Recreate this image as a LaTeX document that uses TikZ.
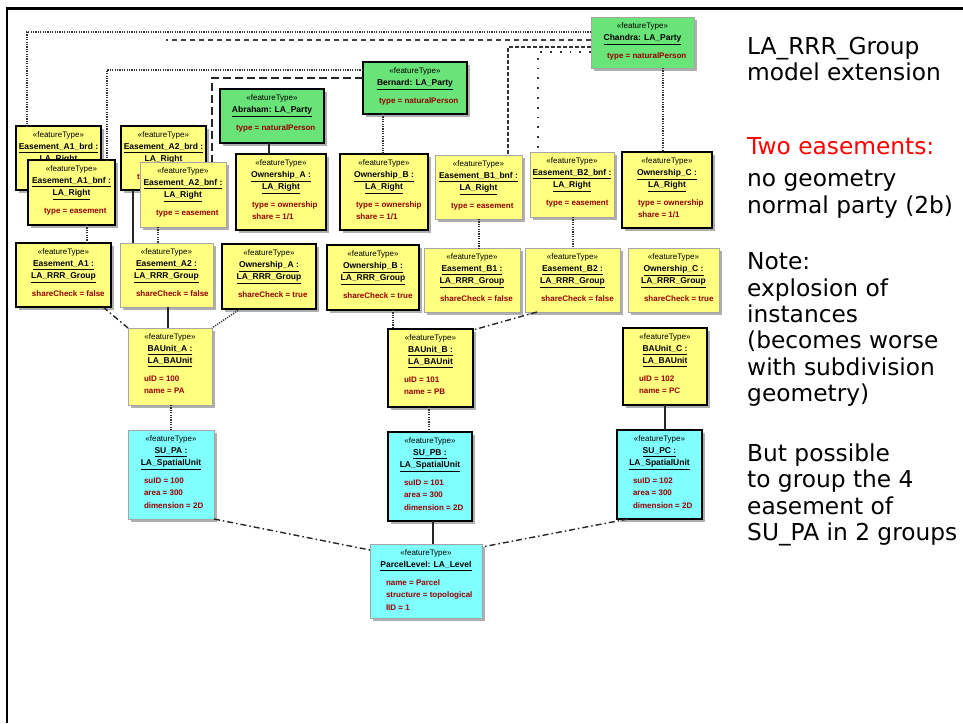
\documentclass[tikz,border=0pt]{standalone}
\usepackage{fontspec}
\setmainfont{Liberation Sans}
\newfontfamily\notefont{DejaVu Sans}
\usetikzlibrary{calc,shadows}

\definecolor{objyellow}{RGB}{255,255,128}
\definecolor{objgreen}{RGB}{105,228,120}
\definecolor{objcyan}{RGB}{128,255,255}
\definecolor{attrred}{RGB}{150,0,0}
\definecolor{shadowgray}{RGB}{175,175,175}
\definecolor{notered}{RGB}{255,0,0}

\tikzset{
  objbox/.style={inner sep=0pt, outer sep=0pt, anchor=north west,
    drop shadow={shadow xshift=3pt, shadow yshift=-3pt, fill=shadowgray, opacity=1}},
  darkedge/.style={draw=black, line width=1.3pt},
  lightedge/.style={draw=black!35, line width=0.6pt},
  solidlink/.style={draw=black!85, line width=1.6pt},
  dotlink/.style={draw=black!80, line width=1.4pt, dash pattern=on 1.2pt off 1.2pt},
  sparselink/.style={draw=black!80, line width=1.8pt, dash pattern=on 1.8pt off 8pt},
  longdashlink/.style={draw=black!85, line width=1.6pt, dash pattern=on 8pt off 4pt},
  shortdashlink/.style={draw=black!80, line width=1.4pt, dash pattern=on 4pt off 2pt},
  pairdashlink/.style={draw=black!75, line width=1.3pt, dash pattern=on 5pt off 4pt},
  dashdotlink/.style={draw=black!85, line width=1.4pt, dash pattern=on 6pt off 3pt on 1.5pt off 3pt},
  notetext/.style={anchor=base west, inner sep=0pt, font=\notefont\fontsize{23.3}{26.4}\selectfont}
}

% stereotype and underlined object name
\newcommand{\stype}{{\fontsize{8}{12}\selectfont «featureType»}}
\newcommand{\nm}[1]{\underline{\textbf{#1}}}

% #1 name, #2 x, #3 y, #4 width, #5 height, #6 fill, #7 edge style, #8 header, #9 attributes
\newcommand{\umlobject}[9]{%
  \node[objbox, fill=#6, #7] (#1) at (#2,#3)
    {\vbox to #5pt{\hsize=#4pt\parindent=0pt\vskip 6pt
      {\centering\fontsize{8.5}{12}\selectfont #8\par}
      \vskip 5pt
      {\leftskip=16pt\rightskip=0pt plus 1fil\fontsize{8}{12.5}\selectfont\bfseries\color{attrred}#9\par}
      \vfill}};
}

\begin{document}
\begin{tikzpicture}[x=1pt, y=-1pt]
\useasboundingbox (0,0) rectangle (963,723);
\fill[white] (0,0) rectangle (963,723);

% frame
\draw[line width=2.5pt] (7,723) -- (7,8);
\draw[line width=3pt] (5.75,8) -- (963,8);

% parties
\umlobject{pC}{591}{17}{103}{51}{objgreen}{lightedge}{\stype\\\nm{Chandra: LA\_Party}}{type = naturalPerson}
\umlobject{pB}{363}{62}{104}{52}{objgreen}{darkedge}{\stype\\\nm{Bernard: LA\_Party}}{type = naturalPerson}
\umlobject{pA}{220}{89}{104}{54}{objgreen}{darkedge}{\stype\\\nm{Abraham: LA\_Party}}{type = naturalPerson}

% rights
\umlobject{rA1b}{16}{126}{85}{64}{objyellow}{darkedge}{\stype\\\nm{Easement\_A1\_brd :}\\\nm{LA\_Right}}{type = easement}
\umlobject{rA2b}{121}{126}{85}{64}{objyellow}{darkedge}{\stype\\\nm{Easement\_A2\_brd :}\\\nm{LA\_Right}}{type = easement}
\umlobject{rA1f}{28}{160}{87}{65}{objyellow}{darkedge}{\stype\\\nm{Easement\_A1\_bnf :}\\\nm{LA\_Right}}{type = easement}
\umlobject{rA2f}{140}{162}{86}{65}{objyellow}{lightedge}{\stype\\\nm{Easement\_A2\_bnf :}\\\nm{LA\_Right}}{type = easement}
\umlobject{rOA}{236}{154}{90}{76}{objyellow}{darkedge}{\stype\\\nm{Ownership\_A :}\\\nm{LA\_Right}}{type = ownership\\share = 1/1}
\umlobject{rOB}{340}{154}{88}{76}{objyellow}{darkedge}{\stype\\\nm{Ownership\_B :}\\\nm{LA\_Right}}{type = ownership\\share = 1/1}
\umlobject{rB1}{435}{155}{87}{64}{objyellow}{lightedge}{\stype\\\nm{Easement\_B1\_bnf :}\\\nm{LA\_Right}}{type = easement}
\umlobject{rB2}{530}{152}{84}{65}{objyellow}{lightedge}{\stype\\\nm{Easement\_B2\_bnf :}\\\nm{LA\_Right}}{type = easement}
\umlobject{rOC}{622}{152}{90}{76}{objyellow}{darkedge}{\stype\\\nm{Ownership\_C :}\\\nm{LA\_Right}}{type = ownership\\share = 1/1}

% RRR groups
\umlobject{gA1}{16}{243}{95}{64}{objyellow}{darkedge}{\stype\\\nm{Easement\_A1 :}\\\nm{LA\_RRR\_Group}}{shareCheck = false}
\umlobject{gA2}{120}{243}{93}{64}{objyellow}{lightedge}{\stype\\\nm{Easement\_A2 :}\\\nm{LA\_RRR\_Group}}{shareCheck = false}
\umlobject{gOA}{222}{244}{94}{65}{objyellow}{darkedge}{\stype\\\nm{Ownership\_A :}\\\nm{LA\_RRR\_Group}}{shareCheck = true}
\umlobject{gOB}{327}{245}{92}{65}{objyellow}{darkedge}{\stype\\\nm{Ownership\_B :}\\\nm{LA\_RRR\_Group}}{shareCheck = true}
\umlobject{gB1}{424}{248}{96}{64}{objyellow}{lightedge}{\stype\\\nm{Easement\_B1 :}\\\nm{LA\_RRR\_Group}}{shareCheck = false}
\umlobject{gB2}{525}{248}{95}{64}{objyellow}{lightedge}{\stype\\\nm{Easement\_B2 :}\\\nm{LA\_RRR\_Group}}{shareCheck = false}
\umlobject{gOC}{628}{248}{91}{64}{objyellow}{lightedge}{\stype\\\nm{Ownership\_C :}\\\nm{LA\_RRR\_Group}}{shareCheck = true}

% basic administrative units
\umlobject{uA}{128}{328}{84}{77}{objyellow}{lightedge}{\stype\\\nm{BAUnit\_A :}\\\nm{LA\_BAUnit}}{uID = 100\\name = PA}
\umlobject{uB}{388}{329}{85}{78}{objyellow}{darkedge}{\stype\\\nm{BAUnit\_B :}\\\nm{LA\_BAUnit}}{uID = 101\\name = PB}
\umlobject{uC}{623}{328}{84}{77}{objyellow}{darkedge}{\stype\\\nm{BAUnit\_C :}\\\nm{LA\_BAUnit}}{uID = 102\\name = PC}

% spatial units
\umlobject{sA}{128}{430}{86}{89}{objcyan}{lightedge}{\stype\\\nm{SU\_PA :}\\\nm{LA\_SpatialUnit}}{suID = 100\\area = 300\\dimension = 2D}
\umlobject{sB}{388}{432}{84}{89}{objcyan}{darkedge}{\stype\\\nm{SU\_PB :}\\\nm{LA\_SpatialUnit}}{suID = 101\\area = 300\\dimension = 2D}
\umlobject{sC}{617}{430}{85}{89}{objcyan}{darkedge}{\stype\\\nm{SU\_PC :}\\\nm{LA\_SpatialUnit}}{suID = 102\\area = 300\\dimension = 2D}

% level
\umlobject{lev}{370}{544}{112}{74}{objcyan}{lightedge}{\stype\\\nm{ParcelLevel: LA\_Level}}{name = Parcel\\structure = topological\\lID = 1}

% party -> right links
\draw[dotlink] ($(pC.north west)+(0,15)$) -| ($(rA1b.north west)+(11,0)$);
\coordinate (pairend) at (166,40);
\draw[pairdashlink] ($(pC.north west)+(0,23)$) -- (pairend);
\draw[dotlink] ($(pB.north west)+(0,8)$) -| ($(rA1f.north west)+(79,0)$);
\draw[longdashlink] ($(pB.north west)+(0,16)$) -| ($(rA2f.north west)+(72,0)$);
\draw[shortdashlink] ($(pC.north west)+(0,30)$) -| ($(rB1.north west)+(73,0)$);
\draw[sparselink] ($(pC.north west)+(0,35)$) -| ($(rB2.north west)+(8,0)$);
\draw[dotlink] ($(pC.south west)+(72,0)$) coordinate (c1) -- (c1 |- rOC.north);
\draw[dotlink] ($(pB.south west)+(20,0)$) coordinate (c2) -- (c2 |- rOB.north);
\draw[solidlink] ($(pA.south west)+(49,0)$) coordinate (c3) -- (c3 |- rOA.north);

% right -> group links
\draw[dotlink] ($(rA1f.south west)+(59,0)$) coordinate (c4) -- (c4 |- gA1.north);
\draw[solidlink] ($(rA2b.south west)+(12,0)$) coordinate (c5) -- (c5 |- gA2.north);
\draw[dotlink] ($(rA2f.south west)+(18,0)$) coordinate (c6) -- (c6 |- gA2.north);
\draw[dotlink] ($(rB1.south west)+(44,0)$) coordinate (c7) -- (c7 |- gB1.north);
\draw[dotlink] ($(rB2.south west)+(43,0)$) coordinate (c8) -- (c8 |- gB2.north);

% group -> BA unit links
\draw[dashdotlink] ($(gA1.south west)+(87,0)$) -- (uA.north west);
\draw[solidlink] ($(gA2.south west)+(48,0)$) coordinate (c9) -- (c9 |- uA.north);
\draw[dotlink] ($(gOA.south west)+(18,0)$) -- (uA.north east);
\draw[dotlink] ($(gOB.south west)+(66,0)$) coordinate (c10) -- (c10 |- uB.north);
\draw[dashdotlink] ($(gB2.south west)+(12,0)$) -- ($(uB.north east)+(0,1)$);

% BA unit -> spatial unit links
\draw[dotlink] ($(uA.south west)+(43,0)$) coordinate (c11) -- (c11 |- sA.north);
\draw[dotlink] ($(uB.south west)+(41,0)$) coordinate (c12) -- (c12 |- sB.north);
\draw[solidlink] ($(uC.south west)+(42,0)$) coordinate (c13) -- (c13 |- sC.north);

% spatial unit -> level links
\draw[solidlink] ($(sB.south west)+(45,0)$) coordinate (c14) -- (c14 |- lev.north);
\draw[dashdotlink] (sA.south east) -- ($(lev.north west)+(0,6)$);
\draw[dashdotlink] ($(sC.south west)+(11,0)$) -- ($(lev.north east)+(0,3)$);

% notes
\node[notetext] (n1) at (747,54) {LA\_RRR\_Group};
\node[notetext] (n2) at (747,80) {model extension};
\node[notetext, text=notered] (n3) at (747,154) {Two easements:};
\node[notetext] (n4) at (747,186) {no geometry};
\node[notetext] (n5) at (747,213) {normal party (2b)};
\node[notetext] (n6) at (747,269) {Note:};
\node[notetext] (n7) at (747,296) {explosion of};
\node[notetext] (n8) at (747,322) {instances};
\node[notetext] (n9) at (747,348) {(becomes worse};
\node[notetext] (n10) at (747,375) {with subdivision};
\node[notetext] (n11) at (747,401) {geometry)};
\node[notetext] (n12) at (747,461) {But possible};
\node[notetext] (n13) at (747,487) {to group the 4};
\node[notetext] (n14) at (747,514) {easement of};
\node[notetext] (n15) at (747,540) {SU\_PA in 2 groups};
\end{tikzpicture}
\end{document}
